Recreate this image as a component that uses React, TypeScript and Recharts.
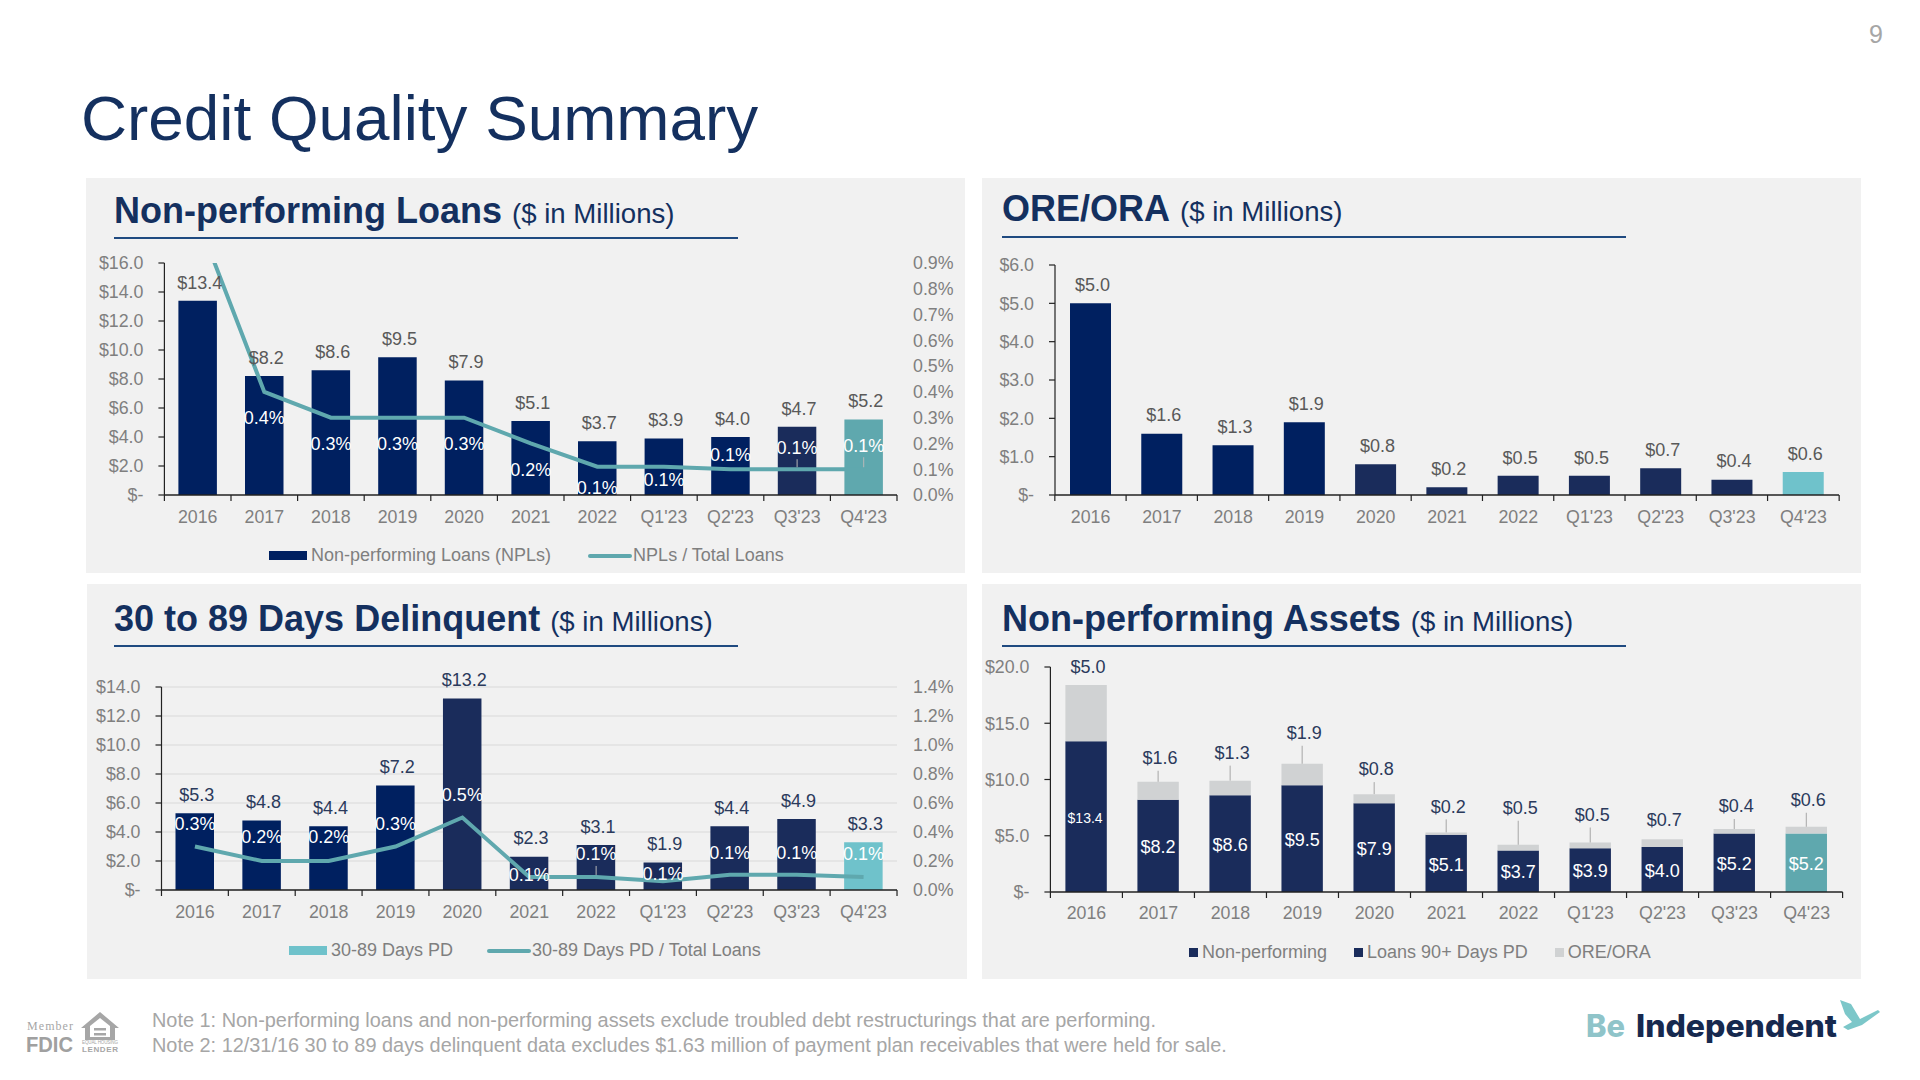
import {
  ComposedChart, Bar, Line, Cell, XAxis, YAxis, CartesianGrid, Legend, LabelList
} from 'recharts';

const periods = ['2016', '2017', '2018', '2019', '2020', '2021', '2022', "Q1'23", "Q2'23", "Q3'23", "Q4'23"];

const nplValues = [13.4, 8.2, 8.6, 9.5, 7.9, 5.1, 3.7, 3.9, 4.0, 4.7, 5.2];
const nplRatio = [1.07, 0.4, 0.3, 0.3, 0.3, 0.2, 0.11, 0.11, 0.1, 0.1, 0.1];
const oreValues = [5.0, 1.6, 1.3, 1.9, 0.8, 0.2, 0.5, 0.5, 0.7, 0.4, 0.6];
const pdValues = [5.3, 4.8, 4.4, 7.2, 13.2, 2.3, 3.1, 1.9, 4.4, 4.9, 3.3];
const pdRatio = [0.3, 0.2, 0.2, 0.3, 0.5, 0.09, 0.09, 0.06, 0.105, 0.105, 0.09];
const npaNonPerforming = [13.4, 8.2, 8.6, 9.5, 7.9, 5.1, 3.7, 3.9, 4.0, 5.2, 5.2];
const npaLoans90 = [0, 0, 0, 0, 0, 0, 0, 0, 0, 0, 0];

const nplTicks = [0, 2, 4, 6, 8, 10, 12, 14, 16];
const nplRatioTicks = [0, 0.1, 0.2, 0.3, 0.4, 0.5, 0.6, 0.7, 0.8, 0.9];
const oreTicks = [0, 1, 2, 3, 4, 5, 6];
const pdTicks = [0, 2, 4, 6, 8, 10, 12, 14];
const pdRatioTicks = [0, 0.2, 0.4, 0.6, 0.8, 1.0, 1.2, 1.4];
const npaTicks = [0, 5, 10, 15, 20];

// hand-placed label nudges from the slide (px above the point / bar top)
const nplRatioRise = [null, -26, -26, -26, -26, -26, -21, -13, 15, 22, 24];
const pdRatioRise = [23, 24, 24, 23, 23, 2, 23, 8, 22, 22, 23];
const oreRise = [18, 24, 28, 31, 25, 26, 37, 28, 19, 23, 27];

const NAVY = '#002060';
const SLATE = '#1a2c5b';
const TEAL = '#5fa8ae';
const AQUA = '#6fc2cb';
const ORE_GREY = '#d0d2d3';
const INK = '#14305f';
const TICK = '#7f7f7f';
const FONT = '"Liberation Sans", Arial, sans-serif';
const FS = 17.8;

const nplColors = periods.map((_, i) => (i === 10 ? TEAL : i === 9 ? SLATE : NAVY));
const oreColors = periods.map((_, i) => (i === 10 ? AQUA : i < 4 ? NAVY : SLATE));
const pdColors = periods.map((_, i) => (i === 10 ? AQUA : i < 4 ? NAVY : SLATE));
const npaColors = periods.map((_, i) => (i === 10 ? TEAL : SLATE));

const nplRows = periods.map((period, i) => ({ period, value: nplValues[i], ratio: nplRatio[i] }));
const oreRows = periods.map((period, i) => ({ period, value: oreValues[i] }));
const pdRows = periods.map((period, i) => ({ period, value: pdValues[i], ratio: pdRatio[i] }));
const npaRows = periods.map((period, i) => ({
  period, nonPerforming: npaNonPerforming[i], loans90: npaLoans90[i], ore: oreValues[i]
}));

const money = (v: number) => (v ? `$${v.toFixed(1)}` : '$-');
const pct = (v: number) => `${v.toFixed(1)}%`;

// x axis ticks sit on the band edges, not band centres
const BandTick = ({ x, y, payload, index, band, labelDy }: any) => (
  <g>
    <line x1={x - band / 2} x2={x - band / 2} y1={y} y2={y + 6} stroke="#222" strokeWidth={1.2} />
    {index === periods.length - 1 && (
      <line x1={x + band / 2} x2={x + band / 2} y1={y} y2={y + 6} stroke="#222" strokeWidth={1.2} />
    )}
    <text x={x} y={y + labelDy} textAnchor="middle" fontSize={FS} fontFamily={FONT} fill={TICK}>
      {payload.value}
    </text>
  </g>
);

const topLabel = (fill: string) => (props: any) => {
  const { x, y, width, value } = props;
  return (
    <text x={x + width / 2 + 2} y={y - 18.5} dy="0.35em" textAnchor="middle" fontSize={18} fontFamily={FONT} fill={fill}>
      {money(value)}
    </text>
  );
};

const ratioLabel = (rise: (number | null)[], leaders: number[] = []) => (props: any) => {
  const { x, y, value, index } = props;
  if (rise[index] === null) return null;
  const ly = y - (rise[index] as number);
  return (
    <g>
      {leaders.includes(index) && <line x1={x} x2={x} y1={ly + 12} y2={y - 2} stroke="#b8b8b8" strokeWidth={1} />}
      <text x={x} y={ly} dy="0.35em" textAnchor="middle" fontSize={18} fontFamily={FONT} fill="#fff">
        {pct(value)}
      </text>
    </g>
  );
};

const oreLabel = (props: any) => {
  const { x, y, width, value, index } = props;
  const cx = x + width / 2;
  const ly = y - oreRise[index];
  return (
    <g>
      {oreRise[index] > 20 && <line x1={cx} x2={cx} y1={ly + 13} y2={y} stroke="#a6a6a6" strokeWidth={1} />}
      <text x={cx + 2} y={ly} dy="0.35em" textAnchor="middle" fontSize={18} fontFamily={FONT} fill="#2b3a5c">
        {money(value)}
      </text>
    </g>
  );
};

const npaInsideLabel = (props: any) => {
  const { x, y, width, height, value, index } = props;
  return (
    <text
      x={x + width / 2 - (index === 0 ? 1 : 0)} y={y + height / 2 + 1} dy="0.35em"
      textAnchor="middle" fontSize={index === 0 ? 14 : 18} fontFamily={FONT} fill="#fff"
    >
      {money(value)}
    </text>
  );
};

const chartLegend = (gap: number, swatch: number) => (props: any) => (
  <div style={{ display: 'flex', alignItems: 'center', gap, fontFamily: FONT, fontSize: 18, color: TICK, whiteSpace: 'nowrap' }}>
    {props.payload.map((entry: any, i: number) => (
      <div key={i} style={{ display: 'flex', alignItems: 'center', gap: entry.type === 'line' ? 1 : 4 }}>
        <span
          style={entry.type === 'line'
            ? { width: 44, height: 4, background: entry.color, borderRadius: 2 }
            : { width: swatch, height: 9, background: entry.color }}
        />
        <span>{entry.value}</span>
      </div>
    ))}
  </div>
);

const Panel = ({ left, top, width, height, title, titleLeft, baseline, ruleY, children }: any) => (
  <div style={{ position: 'absolute', left, top, width, height, background: '#f1f1f1' }}>
    <div
      style={{
        position: 'absolute', left: titleLeft, top: baseline - top - 30.5, lineHeight: 1,
        fontFamily: FONT, color: INK, whiteSpace: 'nowrap', fontSize: 36, fontWeight: 700
      }}
    >
      {title}
      <span style={{ fontWeight: 400, fontSize: 27.6, marginLeft: 10 }}>($ in Millions)</span>
    </div>
    <div style={{ position: 'absolute', left: titleLeft, top: ruleY - top - 1, width: 624, height: 2, background: '#1f4a80' }} />
    {children}
  </div>
);

const leftAxis = (ticks: number[], domainMax: number, width: number) => (
  <YAxis
    yAxisId="left" width={width} domain={[0, domainMax]} ticks={ticks} interval={0}
    tickFormatter={money} tickSize={6} tickMargin={15}
    tick={{ fontSize: FS, fontFamily: FONT, fill: TICK }}
    axisLine={{ stroke: '#222', strokeWidth: 1.2 }} tickLine={{ stroke: '#222', strokeWidth: 1.2 }}
  />
);

const rightAxis = (ticks: number[], domainMax: number, width: number) => (
  <YAxis
    yAxisId="ratio" orientation="right" width={width} domain={[0, domainMax]} ticks={ticks} interval={0}
    allowDataOverflow tickFormatter={pct} tickSize={0} tickMargin={16}
    tick={{ fontSize: FS, fontFamily: FONT, fill: TICK }} axisLine={false} tickLine={false}
  />
);

const bandAxis = (band: number, labelDy: number, height: number) => (
  <XAxis
    dataKey="period" interval={0} height={height} tickSize={0} tickMargin={0} tickLine={false}
    tick={<BandTick band={band} labelDy={labelDy} />}
    axisLine={{ stroke: '#222', strokeWidth: 1.5 }}
  />
);

const legendSpot = (left: number, top: number) => ({ left, top, width: 'auto', height: 24 });

export default function App() {
  return (
    <div style={{ position: 'absolute', left: 0, top: 0, width: 1920, height: 1080, background: '#fff', overflow: 'hidden', fontFamily: FONT }}>
      <div style={{ position: 'absolute', left: 1869, top: 22, fontSize: 25, lineHeight: 1, color: '#a6a6a6' }}>9</div>
      <div style={{ position: 'absolute', left: 81, top: 87, fontSize: 63.8, lineHeight: 1, color: INK, whiteSpace: 'nowrap' }}>
        Credit Quality Summary
      </div>

      <Panel left={86} top={178} width={879} height={395} title="Non-performing Loans" titleLeft={28} baseline={223} ruleY={238}>
        <ComposedChart width={879} height={395} data={nplRows} margin={{ top: 85, right: 0, bottom: 0, left: 0 }}>
          {bandAxis(66.6, 28, 78)}
          {leftAxis(nplTicks, 16, 78.4)}
          {rightAxis(nplRatioTicks, 0.9, 68)}
          <Legend
            layout="horizontal" verticalAlign="middle" align="center" itemSorter={null as any}
            wrapperStyle={legendSpot(183, 367)} content={chartLegend(37, 38)}
          />
          <Bar yAxisId="left" dataKey="value" name="Non-performing Loans (NPLs)" fill={NAVY} barSize={38.5} isAnimationActive={false}>
            {nplColors.map((c, i) => <Cell key={i} fill={c} />)}
            <LabelList dataKey="value" content={topLabel('#595959')} />
          </Bar>
          <Line
            yAxisId="ratio" dataKey="ratio" name="NPLs / Total Loans" stroke={TEAL} strokeWidth={4}
            dot={false} activeDot={false} isAnimationActive={false}
          >
            <LabelList dataKey="ratio" content={ratioLabel(nplRatioRise, [9, 10])} />
          </Line>
        </ComposedChart>
      </Panel>

      <Panel left={982} top={178} width={879} height={395} title="ORE/ORA" titleLeft={20} baseline={221} ruleY={237}>
        <ComposedChart width={879} height={395} data={oreRows} margin={{ top: 87, right: 22, bottom: 0, left: 0 }}>
          {bandAxis(71.6, 28, 78)}
          {leftAxis(oreTicks, 6, 73)}
          <Bar yAxisId="left" dataKey="value" name="ORE/ORA" fill={NAVY} barSize={41} isAnimationActive={false}>
            {oreColors.map((c, i) => <Cell key={i} fill={c} />)}
            <LabelList dataKey="value" content={topLabel('#595959')} />
          </Bar>
        </ComposedChart>
      </Panel>

      <Panel left={87} top={584} width={880} height={395} title="30 to 89 Days Delinquent" titleLeft={27} baseline={631} ruleY={646}>
        <ComposedChart width={880} height={395} data={pdRows} margin={{ top: 103, right: 0, bottom: 0, left: 0 }}>
          <CartesianGrid yAxisId="left" vertical={false} stroke="#e0e0e0" strokeWidth={1.5} />
          {bandAxis(66.9, 28, 89)}
          {leftAxis(pdTicks, 14, 74.5)}
          {rightAxis(pdRatioTicks, 1.4, 70)}
          <Legend
            layout="horizontal" verticalAlign="middle" align="center" itemSorter={null as any}
            wrapperStyle={legendSpot(202, 356)} content={chartLegend(34, 38)}
          />
          <Bar yAxisId="left" dataKey="value" name="30-89 Days PD" fill={AQUA} barSize={38.5} isAnimationActive={false}>
            {pdColors.map((c, i) => <Cell key={i} fill={c} />)}
            <LabelList dataKey="value" content={topLabel('#2b3a5c')} />
          </Bar>
          <Line
            yAxisId="ratio" dataKey="ratio" name="30-89 Days PD / Total Loans" stroke={TEAL} strokeWidth={4}
            dot={false} activeDot={false} isAnimationActive={false}
          >
            <LabelList dataKey="ratio" content={ratioLabel(pdRatioRise, [6])} />
          </Line>
        </ComposedChart>
      </Panel>

      <Panel left={982} top={584} width={879} height={395} title="Non-performing Assets" titleLeft={20} baseline={631} ruleY={646}>
        <ComposedChart width={879} height={395} data={npaRows} margin={{ top: 83, right: 18.4, bottom: 0, left: 0 }}>
          {bandAxis(72, 27, 87)}
          {leftAxis(npaTicks, 20, 68.4)}
          <Legend
            layout="horizontal" verticalAlign="middle" align="center" itemSorter={null as any}
            wrapperStyle={legendSpot(207, 358)} content={chartLegend(27, 9)}
          />
          <Bar yAxisId="left" dataKey="nonPerforming" stackId="npa" name="Non-performing" fill={SLATE} barSize={41.4} isAnimationActive={false}>
            {npaColors.map((c, i) => <Cell key={i} fill={c} />)}
            <LabelList dataKey="nonPerforming" content={npaInsideLabel} />
          </Bar>
          <Bar yAxisId="left" dataKey="loans90" stackId="npa" name="Loans 90+ Days PD" fill={SLATE} barSize={41.4} isAnimationActive={false} />
          <Bar yAxisId="left" dataKey="ore" stackId="npa" name="ORE/ORA" fill={ORE_GREY} barSize={41.4} isAnimationActive={false}>
            <LabelList dataKey="ore" content={oreLabel} />
          </Bar>
        </ComposedChart>
      </Panel>

      <div style={{ position: 'absolute', left: 152, top: 1008, fontSize: 19.9, lineHeight: '24.5px', color: '#a6a6a6', whiteSpace: 'nowrap' }}>
        Note 1: Non-performing loans and non-performing assets exclude troubled debt restructurings that are performing.
        <br />
        Note 2: 12/31/16 30 to 89 days delinquent data excludes $1.63 million of payment plan receivables that were held for sale.
      </div>

      {/* footer marks */}
      <svg style={{ position: 'absolute', left: 0, top: 990 }} width={1920} height={90}>
        <text x={27} y={39.5} fontSize={12} fontFamily='"Liberation Serif"' fill="#a6a6a6" textLength={46}>Member</text>
        <text x={26} y={62} fontSize={22} fontWeight={700} fill="#a0a0a0" textLength={47} lengthAdjust="spacingAndGlyphs">FDIC</text>
        <path d="M100 22 L119 38 L115 38 L115 50 L85 50 L85 38 L81 38 Z M90 36 L90 47 L110 47 L110 36 L100 28 Z" fill="#a6a6a6" fillRule="evenodd" />
        <rect x={94} y={38} width={12} height={2.5} fill="#a6a6a6" />
        <rect x={94} y={43} width={12} height={2.5} fill="#a6a6a6" />
        <text x={82} y={53.5} fontSize={4.5} fill="#a6a6a6" textLength={36}>EQUAL HOUSING</text>
        <text x={82} y={62} fontSize={8} fontWeight={700} fill="#a6a6a6" textLength={36}>LENDER</text>
        <text x={1586} y={47} fontSize={31} fontWeight={800} fontFamily="Inter" fill="#8fc4c9" textLength={39} lengthAdjust="spacingAndGlyphs">Be</text>
        <text x={1636} y={47} fontSize={31} fontWeight={800} fontFamily="Inter" fill="#16294f" textLength={201} lengthAdjust="spacingAndGlyphs">Independent</text>
        <path d="M1840 10 L1851 14 L1860 29 L1878 20 L1880 22 L1862 35 L1848 40 L1843 37 L1852 32 L1845 24 Z" fill="#7cc7c9" />
      </svg>
    </div>
  );
}
